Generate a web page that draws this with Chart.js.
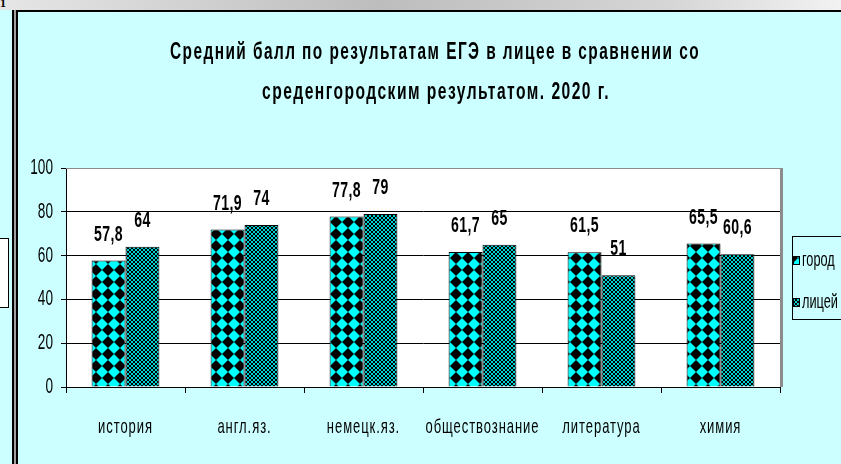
<!DOCTYPE html>
<html>
<head>
<meta charset="utf-8">
<script src="https://cdn.jsdelivr.net/npm/chart.js@4.4.1/dist/chart.umd.min.js"></script>
<style>
  html, body { margin: 0; padding: 0; }
  body { width: 841px; height: 464px; overflow: hidden; background: #ccffff; position: relative; }
  #topStrip { position: absolute; left: 0; top: 0; width: 841px; height: 10px; background: linear-gradient(to right, #e6e6e6, #bdbdbd 45%, #d6d6d6 80%, #f2f2f2); overflow: hidden; }
  #topStrip span { position: absolute; left: 0; top: -4px; font: bold 12px "Liberation Serif", serif; color: #000; }
  #topLine { position: absolute; left: 12px; top: 10px; width: 829px; height: 2px; background: #000; }
  #frameLeft { position: absolute; left: 12px; top: 10px; width: 6px; height: 454px; background: linear-gradient(to right, #000 0 2px, #a0a0a0 2px 4px, #000 4px 6px); }
  #sideBox { position: absolute; left: -1px; top: 238px; width: 8px; height: 68px; background: #fff; border: 1px solid #000; }
  #wrap { position: absolute; left: 18px; top: 12px; width: 823px; height: 452px; }
</style>
</head>
<body>
<div id="topStrip"><span>1</span></div>
<div id="topLine"></div>
<div id="frameLeft"></div>
<div id="sideBox"></div>
<div id="wrap"><canvas id="chart" width="823" height="452"></canvas></div>
<script>
const categories = ['история', 'англ.яз.', 'немецк.яз.', 'обществознание', 'литература', 'химия'];
const cityScores = [57.8, 71.9, 77.8, 61.7, 61.5, 65.5];
const lyceumScores = [64, 74, 79, 65, 51, 60.6];
const yTicks = [0, 20, 40, 60, 80, 100];
const seriesNames = ['город', 'лицей'];
const titleLines = ['Средний балл по результатам ЕГЭ в лицее в сравнении со', 'среденгородским результатом. 2020 г.'];

const FONT = '"Liberation Sans", Arial, sans-serif';

// cyan with black diamonds (rotated checkerboard)
function makeDiamonds() {
    const c = document.createElement('canvas');
    c.width = 12; c.height = 12;
    const g = c.getContext('2d');
    g.fillStyle = '#00ffff';
    g.fillRect(0, 0, 12, 12);
    g.fillStyle = '#000';
    g.beginPath();
    g.moveTo(6, 0); g.lineTo(12, 6); g.lineTo(6, 12); g.lineTo(0, 6);
    g.closePath();
    g.fill();
    return g.createPattern(c, 'repeat');
}

// black with fine cyan mesh
function makeMesh() {
    const c = document.createElement('canvas');
    c.width = 4; c.height = 4;
    const g = c.getContext('2d');
    g.fillStyle = '#000';
    g.fillRect(0, 0, 4, 4);
    g.fillStyle = '#00d0d0';
    for (let i = 0; i < 4; i++) {
        g.fillRect(i, i, 1, 1);
        g.fillRect(3 - i, i, 1, 1);
    }
    return g.createPattern(c, 'repeat');
}

// text in the original is tall and narrow, so squeeze/stretch it
function stretchText(ctx, text, x, y, font, sx, sy, align, spacing) {
    ctx.save();
    ctx.translate(x, y);
    ctx.scale(sx, sy);
    ctx.font = font;
    ctx.letterSpacing = spacing || '0px';
    ctx.fillStyle = '#000';
    ctx.textAlign = align || 'center';
    ctx.textBaseline = 'middle';
    ctx.fillText(text, 0, 0);
    ctx.restore();
}

// title line squeezed to a given width
function fitText(ctx, text, x, y, font, width, sy, spacing) {
    ctx.save();
    ctx.font = font;
    ctx.letterSpacing = spacing;
    const w = ctx.measureText(text).width;
    ctx.restore();
    stretchText(ctx, text, x, y, font, width / w, sy, 'center', spacing);
}

const diamondFill = makeDiamonds();
const meshFill = makeMesh();

const excelLook = {
    id: 'excelLook',
    beforeDraw(chart) {
        const a = chart.chartArea, ctx = chart.ctx;
        ctx.save();
        ctx.fillStyle = '#fff';
        ctx.fillRect(a.left, a.top, a.right - a.left, a.bottom - a.top);
        ctx.restore();
    },
    beforeDatasetsDraw(chart) {
        const a = chart.chartArea, ctx = chart.ctx;
        ctx.save();
        ctx.strokeStyle = '#8c8c8c';
        ctx.lineWidth = 1;
        ctx.beginPath();
        ctx.moveTo(a.left, a.top + 0.5);
        ctx.lineTo(a.right, a.top + 0.5);
        ctx.stroke();
        ctx.lineWidth = 3;
        ctx.beginPath();
        ctx.moveTo(a.right + 1.5, a.top);
        ctx.lineTo(a.right + 1.5, a.bottom);
        ctx.stroke();
        ctx.restore();
    },
    afterDatasetsDraw(chart) {
        const ctx = chart.ctx;
        chart.data.datasets.forEach((ds, di) => {
            chart.getDatasetMeta(di).data.forEach((bar, i) => {
                const txt = String(ds.data[i]).replace('.', ',');
                stretchText(ctx, txt, bar.x, bar.y - 26, 'bold 16px ' + FONT, 0.88, 1.4, 'center', '0.5px');
            });
        });
    },
    afterDraw(chart) {
        const ctx = chart.ctx;
        const xs = chart.scales.x, ys = chart.scales.y;

        // title
        fitText(ctx, titleLines[0], 417, 40, 'bold 16px ' + FONT, 530, 1.55, '1.5px');
        fitText(ctx, titleLines[1], 418, 80, 'bold 16px ' + FONT, 348, 1.55, '1.5px');

        // axis labels
        yTicks.forEach(v => {
            stretchText(ctx, String(v), 35, ys.getPixelForValue(v), '16px ' + FONT, 0.85, 1.35, 'right');
        });
        categories.forEach((c, i) => {
            stretchText(ctx, c, xs.getPixelForValue(i), 415, '14px ' + FONT, 0.93, 1.5, 'center', '1px');
        });

        // legend box, cut by the right edge like the original
        ctx.save();
        ctx.strokeStyle = '#000';
        ctx.lineWidth = 1;
        ctx.strokeRect(774.5, 224.5, 120, 83);
        ctx.fillStyle = diamondFill;
        ctx.fillRect(775, 244, 7, 9);
        ctx.fillStyle = meshFill;
        ctx.fillRect(775, 286, 7, 9);
        ctx.strokeRect(775.5, 244.5, 6, 8);
        ctx.strokeRect(775.5, 286.5, 6, 8);
        ctx.restore();
        stretchText(ctx, seriesNames[0], 784, 248, '15px ' + FONT, 0.85, 1.35, 'left');
        stretchText(ctx, seriesNames[1], 784, 290, '15px ' + FONT, 0.85, 1.35, 'left');
    }
};

new Chart(document.getElementById('chart'), {
    type: 'bar',
    data: {
        labels: categories,
        datasets: [
            { label: seriesNames[0], data: cityScores, backgroundColor: diamondFill, borderColor: '#000', borderWidth: 1 },
            { label: seriesNames[1], data: lyceumScores, backgroundColor: meshFill, borderColor: '#000', borderWidth: 1 }
        ]
    },
    options: {
        responsive: false,
        animation: false,
        devicePixelRatio: 1,
        categoryPercentage: 0.57,
        barPercentage: 1.0,
        layout: { padding: { top: 156, right: 61, left: 0, bottom: 0 } },
        plugins: {
            legend: { display: false },
            title: { display: false },
            tooltip: { enabled: false }
        },
        scales: {
            x: {
                grid: { drawOnChartArea: false, offset: true, tickLength: 6, color: '#000', tickColor: '#000' },
                border: { color: '#000', width: 1 },
                ticks: { display: false },
                afterFit(s) { s.height = 77; }
            },
            y: {
                min: 0,
                max: 100,
                ticks: { stepSize: 20, display: false },
                grid: {
                    color: c => c.tick.value === 100 ? 'rgba(0,0,0,0)' : '#000',
                    tickColor: '#000',
                    tickLength: 5
                },
                border: { color: '#000', width: 1 },
                afterFit(s) { s.width = 48; }
            }
        }
    },
    plugins: [excelLook]
});
</script>
</body>
</html>
